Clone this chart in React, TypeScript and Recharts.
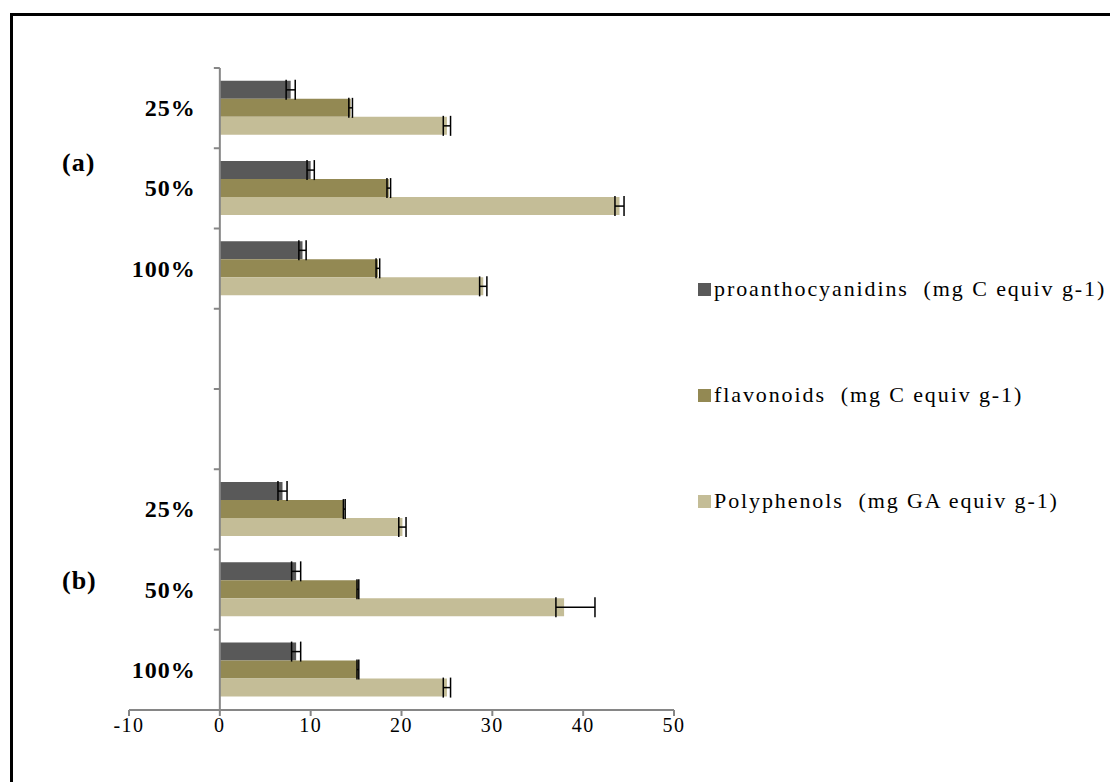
import { BarChart, Bar, XAxis, YAxis, ErrorBar, ReferenceLine, Legend } from 'recharts';

// categories (two groups, two empty slots between them)
const categories = ['25%', '50%', '100%', '', '', '25%', '50%', '100%'];
const proanthocyanidins = [7.8, 10.0, 9.1, null, null, 6.9, 8.4, 8.4];
const proanthocyanidinsErr = [0.5, 0.4, 0.4, null, null, 0.5, 0.5, 0.5];
const flavonoids = [14.4, 18.6, 17.4, null, null, 13.7, 15.2, 15.2];
const flavonoidsErr = [0.2, 0.2, 0.2, null, null, 0.1, 0.1, 0.1];
const polyphenols = [25.0, 44.0, 29.0, null, null, 20.1, 37.9, 25.0];
const polyphenolsErr: (number | number[] | null)[] = [0.4, 0.5, 0.4, null, null, 0.4, [0.9, 3.4], 0.4];
const xTicks = [-10, 0, 10, 20, 30, 40, 50];

const series = [
  { key: 'pro', name: 'proanthocyanidins  (mg C equiv g-1)', color: '#595959' },
  { key: 'flav', name: 'flavonoids  (mg C equiv g-1)', color: '#938953' },
  { key: 'poly', name: 'Polyphenols  (mg GA equiv g-1)', color: '#C4BD97' },
];

const W = 1110;
const H = 782;
const PLOT_LEFT = 129;
const PLOT_RIGHT = 674;
const PLOT_TOP = 68;
const PLOT_BOTTOM = 710;
const X_MIN = -10;
const X_MAX = 50;
const AXIS_GRAY = '#868686';
const FONT = '"Liberation Serif", "Times New Roman", serif';

const data = categories.map((label, i) => ({
  id: i,
  label,
  pro: proanthocyanidins[i],
  proErr: proanthocyanidinsErr[i],
  flav: flavonoids[i],
  flavErr: flavonoidsErr[i],
  poly: polyphenols[i],
  polyErr: polyphenolsErr[i],
}));

// the category axis is drawn at x = 0 (excel style), not at the plot's left edge
const zeroOffset = ((0 - X_MIN) / (X_MAX - X_MIN)) * (PLOT_RIGHT - PLOT_LEFT);
const band = (PLOT_BOTTOM - PLOT_TOP) / categories.length;

const CategoryTick = ({ x, y, payload }: any) => {
  const zx = x + zeroOffset;
  const last = payload.value === categories.length - 1;
  return (
    <g>
      <line x1={zx - 6} x2={zx} y1={y - band / 2} y2={y - band / 2} stroke={AXIS_GRAY} strokeWidth={2} />
      {last && <line x1={zx - 6} x2={zx} y1={y + band / 2} y2={y + band / 2} stroke={AXIS_GRAY} strokeWidth={2} />}
      <text
        x={zx - 24}
        y={y}
        textAnchor="end"
        dominantBaseline="central"
        fontSize={24}
        fontWeight="bold"
        letterSpacing={1}
        fill="#000"
        fontFamily={FONT}
      >
        {categories[payload.value]}
      </text>
    </g>
  );
};

const renderLegend = () => (
  <div style={{ fontFamily: FONT, fontSize: 22, color: '#000', letterSpacing: 1.9 }}>
    {series.map((s) => (
      <div key={s.key} style={{ display: 'flex', alignItems: 'center', height: 24, marginBottom: 82, whiteSpace: 'pre' }}>
        <span style={{ display: 'inline-block', width: 13, height: 13, background: s.color, marginRight: 3 }} />
        <span>{s.name}</span>
      </div>
    ))}
  </div>
);

export default function App() {
  return (
    <div style={{ position: 'absolute', left: 0, top: 0, width: W, height: H, overflow: 'hidden', background: '#fff', fontFamily: FONT }}>
      <div style={{ position: 'absolute', left: 10, top: 13, width: 1300, height: 1000, borderLeft: '3px solid #000', borderTop: '3px solid #000' }} />
      <div style={{ position: 'absolute', left: 62, top: 148, fontSize: 26, fontWeight: 'bold', letterSpacing: 1 }}>(a)</div>
      <div style={{ position: 'absolute', left: 62, top: 566, fontSize: 26, fontWeight: 'bold', letterSpacing: 1 }}>(b)</div>
      <BarChart
        width={W}
        height={H}
        data={data}
        layout="vertical"
        margin={{ top: PLOT_TOP, right: W - PLOT_RIGHT, bottom: H - PLOT_BOTTOM - 34, left: 0 }}
        barCategoryGap="16%"
        barGap={0}
      >
        <XAxis
          type="number"
          domain={[X_MIN, X_MAX]}
          ticks={xTicks}
          interval={0}
          height={34}
          axisLine={{ stroke: AXIS_GRAY, strokeWidth: 2 }}
          tickLine={{ stroke: AXIS_GRAY, strokeWidth: 2 }}
          tickSize={6}
          tickMargin={2}
          tick={{ fill: '#000', fontSize: 20, letterSpacing: 1.5 }}
        />
        <YAxis
          type="category"
          dataKey="id"
          width={PLOT_LEFT}
          axisLine={false}
          tickLine={false}
          tickSize={0}
          tickMargin={0}
          interval={0}
          tick={<CategoryTick />}
        />
        <ReferenceLine x={0} stroke={AXIS_GRAY} strokeWidth={2} />
        {series.map((s) => (
          <Bar key={s.key} dataKey={s.key} name={s.name} fill={s.color} isAnimationActive={false}>
            <ErrorBar dataKey={s.key + 'Err'} direction="x" width={10} stroke="#000" strokeWidth={1.5} />
          </Bar>
        ))}
        <Legend
          layout="horizontal"
          verticalAlign="middle"
          align="center"
          wrapperStyle={{ left: 698, top: 277, width: 412 }}
          content={renderLegend}
        />
      </BarChart>
    </div>
  );
}
